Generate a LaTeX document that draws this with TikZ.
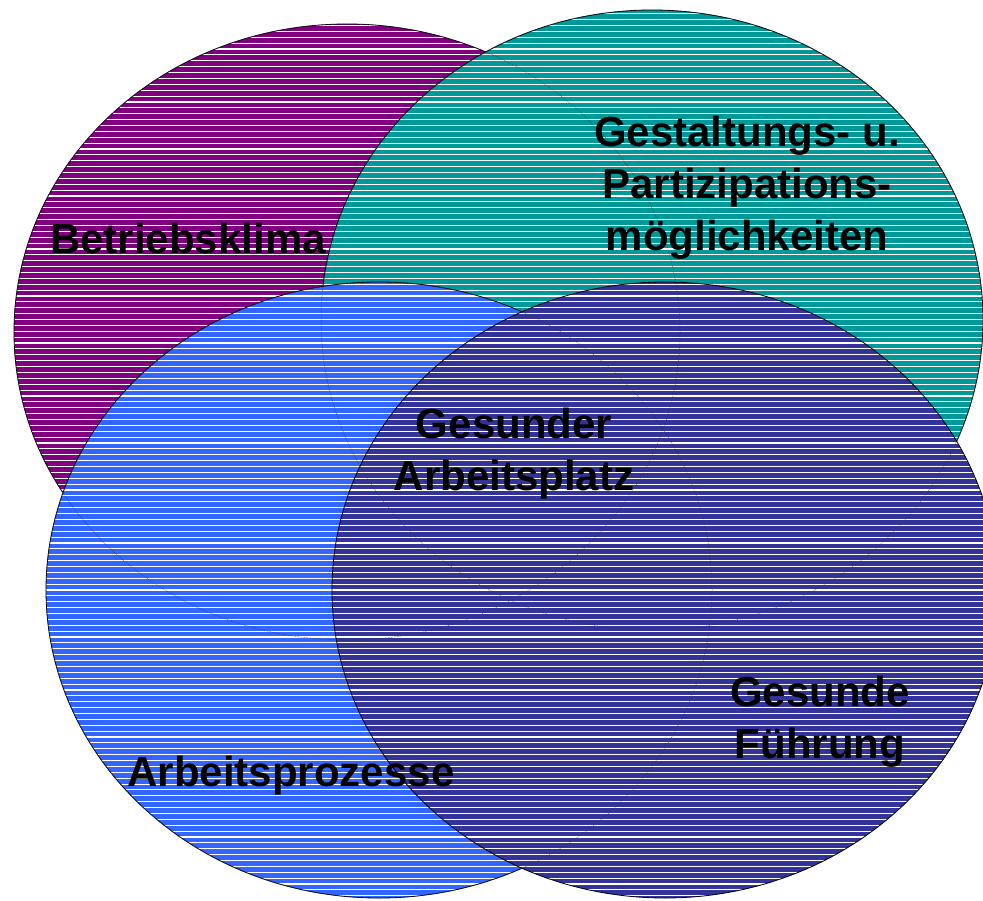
\documentclass[tikz,border=0pt]{standalone}
\usepackage{fontspec}
\setmainfont{Liberation Sans}
\definecolor{cpurple}{RGB}{128,0,128}
\definecolor{cteal}{RGB}{0,153,153}
\definecolor{cblue}{RGB}{51,102,255}
\definecolor{cdark}{RGB}{51,51,153}
\newcommand{\mystripes}{\foreach \i in {0,...,154} {\draw[white, line width=1.1pt] (0,\i*5.88+2) -- (983,\i*5.88+2);}}
\begin{document}
\begin{tikzpicture}[x=1pt,y=-1pt,
  lbl/.style={font=\fontsize{42}{52}\selectfont\bfseries, inner sep=0pt, align=center, text=black},
  rim/.style={draw=black, line width=0.8pt},
  ghost/.style={draw=black!80, line width=0.5pt, densely dotted}]
\useasboundingbox (0,0) rectangle (983,900);
\clip (0,0) rectangle (983,900);
% purple
\fill[cpurple] (347,332) ellipse [x radius=333, y radius=308];
\begin{scope}\clip (347,332) ellipse [x radius=333, y radius=308]; \mystripes \end{scope}
\draw[rim] (347,332) ellipse [x radius=333, y radius=308];
% teal
\fill[cteal] (652,320) ellipse [x radius=331, y radius=310];
\begin{scope}\clip (652,320) ellipse [x radius=331, y radius=310]; \mystripes \end{scope}
\draw[rim] (652,320) ellipse [x radius=331, y radius=310];
% blue
\fill[cblue] (379,590) ellipse [x radius=333, y radius=308];
\begin{scope}\clip (379,590) ellipse [x radius=333, y radius=308]; \mystripes \end{scope}
\draw[rim] (379,590) ellipse [x radius=333, y radius=308];
% dark blue
\fill[cdark] (665,590) ellipse [x radius=333, y radius=308];
\begin{scope}\clip (665,590) ellipse [x radius=333, y radius=308]; \mystripes \end{scope}
\draw[rim] (665,590) ellipse [x radius=333, y radius=308];
% outlines seen through
\draw[ghost] (347,332) ellipse [x radius=333, y radius=308];
\draw[ghost] (652,320) ellipse [x radius=331, y radius=310];
\draw[ghost] (379,590) ellipse [x radius=333, y radius=308];
% labels
\node[lbl, anchor=base] (bk) at (188,253) {Betriebsklima};
\node[lbl, anchor=north] (gp) at (747,116) {Gestaltungs- u.\\Partizipations-\\möglichkeiten};
\node[lbl, anchor=north] (ga) at (514,408) {Gesunder\\Arbeitsplatz};
\node[lbl, anchor=north] (gf) at (820,676) {Gesunde\\Führung};
\node[lbl, anchor=base] (ap) at (291,786) {Arbeitsprozesse};
\end{tikzpicture}
\end{document}
